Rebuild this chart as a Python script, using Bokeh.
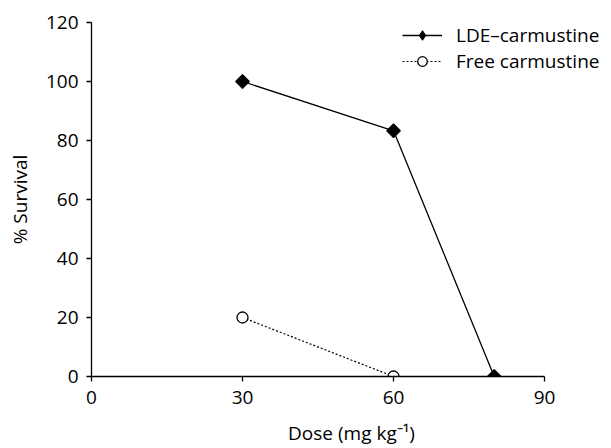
import math
from bokeh.plotting import figure
from bokeh.models import Legend, LegendItem, Range1d, FixedTicker
from bokeh.embed import file_html
from bokeh.resources import INLINE

lde_dose = [30, 60, 80]
lde_survival = [100, 83.3, 0]
free_dose = [30, 60]
free_survival = [20, 0]
x_ticks = [0, 30, 60, 90]
y_ticks = [0, 20, 40, 60, 80, 100, 120]

FONT = "Open Sans"
FS = "19px"

p = figure(width=611, height=448, output_backend="svg", toolbar_location=None,
           x_range=Range1d(0, 103.3), y_range=Range1d(0, 120),
           min_border_left=91, min_border_right=0, min_border_top=22, min_border_bottom=71)
p.outline_line_color = None
p.grid.visible = False
p.background_fill_color = "white"

for ax in (p.xaxis[0], p.yaxis[0]):
    ax.major_label_text_font = FONT
    ax.major_label_text_font_size = FS
    ax.major_label_text_color = "black"
    ax.axis_label_text_font = FONT
    ax.axis_label_text_font_size = FS
    ax.axis_label_text_font_style = "normal"
    ax.axis_label_text_color = "black"
    ax.axis_line_color = "black"
    ax.axis_line_width = 1.3
    ax.major_tick_line_color = "black"
    ax.major_tick_line_width = 1.3
    ax.major_tick_in = 0
    ax.major_tick_out = 5
    ax.minor_tick_line_color = None

p.xaxis.bounds = (0, 90)
p.xaxis.ticker = FixedTicker(ticks=x_ticks)
p.yaxis.ticker = FixedTicker(ticks=y_ticks)
p.xaxis.axis_label = "Dose (mg kg\u207b\u00b9)"
p.yaxis.axis_label = "% Survival"
p.xaxis.major_label_standoff = 9
p.yaxis.major_label_standoff = 8
p.xaxis.axis_label_standoff = 13
p.yaxis.axis_label_standoff = 10

l1 = p.line(lde_dose, lde_survival, line_color="black", line_width=1.3)
# legend swatch marker (legend glyphs are drawn unrotated); hidden under the rotated squares
k1 = p.scatter(lde_dose, lde_survival, marker="diamond", size=8,
               fill_color="black", line_color="black", line_width=1.0)
m1 = p.scatter(lde_dose, lde_survival, marker="square", size=9.5, angle=math.pi / 4,
               fill_color="black", line_color="black", line_width=1.3)
l2 = p.line(free_dose, free_survival, line_color="black", line_width=1.2, line_dash="2 2")
m2 = p.scatter(free_dose, free_survival, marker="circle", size=11,
               fill_color="white", line_color="black", line_width=1.3)

legend = Legend(items=[LegendItem(label="LDE\u2013carmustine", renderers=[l1, k1]),
                       LegendItem(label="Free carmustine", renderers=[l2, m2])],
                location=(311, 302), orientation="vertical")
legend.border_line_color = None
legend.background_fill_alpha = 0
legend.padding = 0
legend.margin = 0
legend.spacing = 0
legend.glyph_width = 40
legend.glyph_height = 24
legend.label_height = 22
legend.label_standoff = 14
legend.label_text_font = FONT
legend.label_text_font_size = "19px"
legend.label_text_color = "black"
p.add_layout(legend, "center")

open("out.html", "w").write(file_html(p, INLINE))
